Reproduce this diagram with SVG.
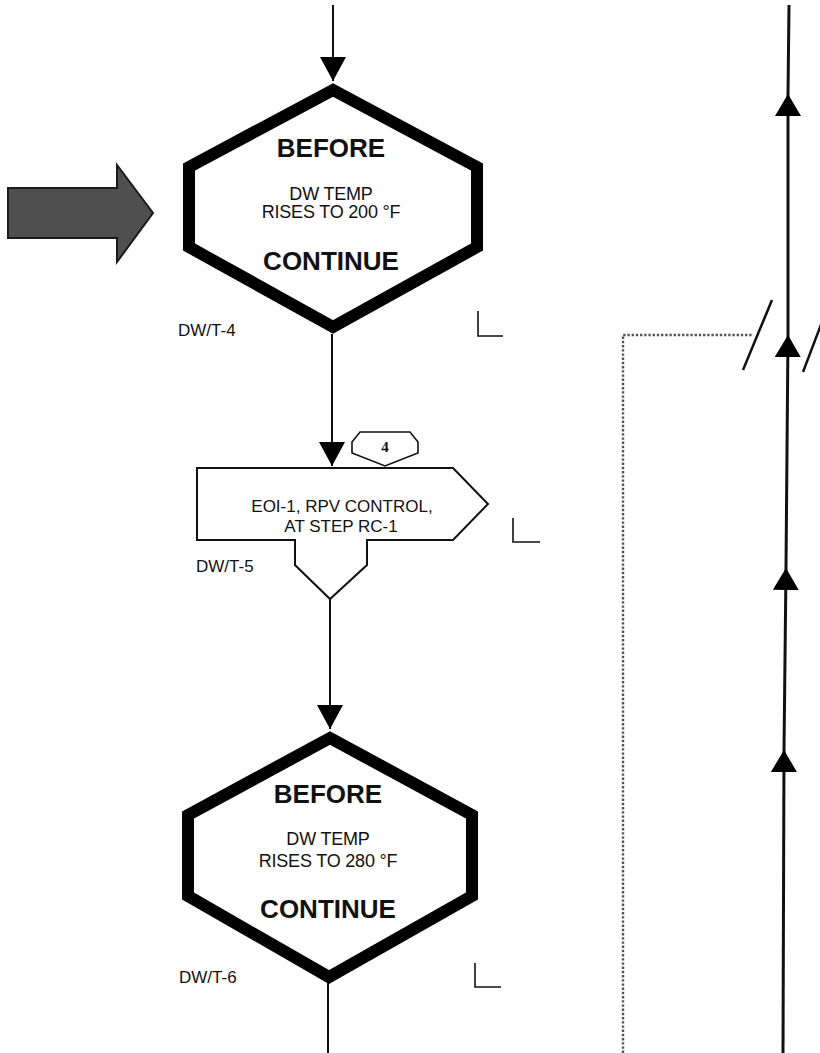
<svg xmlns="http://www.w3.org/2000/svg" width="820" height="1053" viewBox="0 0 820 1053">
  <style>
    .hex { fill: #fff; stroke: #000; stroke-width: 12; stroke-linejoin: miter; }
    .flag { fill: #fff; stroke: #111; stroke-width: 2; }
    .badge { fill: #fff; stroke: #111; stroke-width: 1.6; }
    .flow { fill: none; stroke: #111; stroke-width: 2; }
    .main { fill: none; stroke: #111; stroke-width: 3; }
    .dots { fill: none; stroke: #555; stroke-width: 2.4; stroke-dasharray: 2.4 1.8; }
    .slash { fill: none; stroke: #111; stroke-width: 2.5; }
    .tick { fill: none; stroke: #111; stroke-width: 1.6; }
    .big { font-family: "Liberation Sans", Arial, sans-serif; font-weight: bold; font-size: 26px; fill: #111; text-anchor: middle; }
    .body { font-family: "Liberation Sans", Arial, sans-serif; font-size: 18px; fill: #111; text-anchor: middle; letter-spacing: -0.2px; }
    .flagtext { font-family: "Liberation Sans", Arial, sans-serif; font-size: 17px; fill: #111; text-anchor: middle; }
    .tag { font-family: "Liberation Sans", Arial, sans-serif; font-size: 17px; fill: #111; }
    .num { font-family: "Liberation Serif", "Times New Roman", serif; font-weight: bold; font-size: 15px; fill: #111; text-anchor: middle; }
  </style>
  <defs>
    <marker id="head" viewBox="0 0 24 26" refX="24" refY="13" markerWidth="24" markerHeight="26" markerUnits="userSpaceOnUse" orient="auto">
      <path d="M0,0 L24,13 L0,26 Z" fill="#000"/>
    </marker>
    <marker id="headR" viewBox="0 0 22 26" refX="22" refY="13" markerWidth="22" markerHeight="26" markerUnits="userSpaceOnUse" orient="auto">
      <path d="M0,0 L22,13 L0,26 Z" fill="#000"/>
    </marker>
  </defs>

  <!-- connectors -->
  <g id="connectors">
    <path class="flow" d="M333,5 L333,81" marker-end="url(#head)"/>
    <path class="flow" d="M332,334 L332,466" marker-end="url(#head)"/>
    <path class="flow" d="M330,599 L330,729" marker-end="url(#head)"/>
    <path class="flow" d="M328,983 L328,1053"/>

    <!-- main upward line on the right -->
    <path class="main" d="M783,1053 L784,750" marker-end="url(#headR)"/>
    <path class="main" d="M784,750 L786,568" marker-end="url(#headR)"/>
    <path class="main" d="M786,568 L788,335" marker-end="url(#headR)"/>
    <path class="main" d="M788,335 L788,94" marker-end="url(#headR)"/>
    <path class="main" d="M788,94 L789,5"/>

    <!-- dotted branch and break marks -->
    <path class="dots" d="M623,1053 L623,335 L752,335"/>
    <path class="slash" d="M743,370 L772,300"/>
    <path class="slash" d="M803,372 L822,322"/>
  </g>

  <!-- entry pointer -->
  <g id="pointer">
    <polygon points="8,188 117,188 117,165 153,213 117,262 117,238 8,238" fill="#4f4f4f" stroke="#1a1a1a" stroke-width="2"/>
  </g>

  <!-- DW/T-4 -->
  <g id="dwt4">
    <polygon class="hex" points="333,90 477,167 477,247 333,327 189,247 189,167"/>
    <text class="big" x="331" y="157">BEFORE</text>
    <text class="body" x="331" y="200">DW TEMP</text>
    <text class="body" x="331" y="218">RISES TO 200 °F</text>
    <text class="big" x="331" y="270">CONTINUE</text>
    <text class="tag" x="178" y="336">DW/T-4</text>
    <path class="tick" d="M478,311 L478,336 L503,336"/>
  </g>

  <!-- DW/T-5 -->
  <g id="dwt5">
    <polygon class="flag" points="197,468 453,468 488,504 453,540 367,540 367,565 330,599 295,565 295,540 197,540"/>
    <text class="flagtext" x="342" y="512">EOI-1, RPV CONTROL,</text>
    <text class="flagtext" x="341" y="532">AT STEP RC-1</text>
    <text class="tag" x="196" y="572">DW/T-5</text>
    <path class="tick" d="M513,518 L513,542 L540,542"/>
  </g>

  <!-- entry badge -->
  <g id="badge4">
    <polygon class="badge" points="360,432 410,432 418,442 418,453 385,466 352,453 352,442"/>
    <text class="num" x="385" y="452">4</text>
  </g>

  <!-- DW/T-6 -->
  <g id="dwt6">
    <polygon class="hex" points="330,738 472,815 472,896 329,977 188,896 188,815"/>
    <text class="big" x="328" y="803">BEFORE</text>
    <text class="body" x="328" y="845">DW TEMP</text>
    <text class="body" x="328" y="867">RISES TO 280 °F</text>
    <text class="big" x="328" y="918">CONTINUE</text>
    <text class="tag" x="179" y="983">DW/T-6</text>
    <path class="tick" d="M475,963 L475,987 L501,987"/>
  </g>
</svg>
